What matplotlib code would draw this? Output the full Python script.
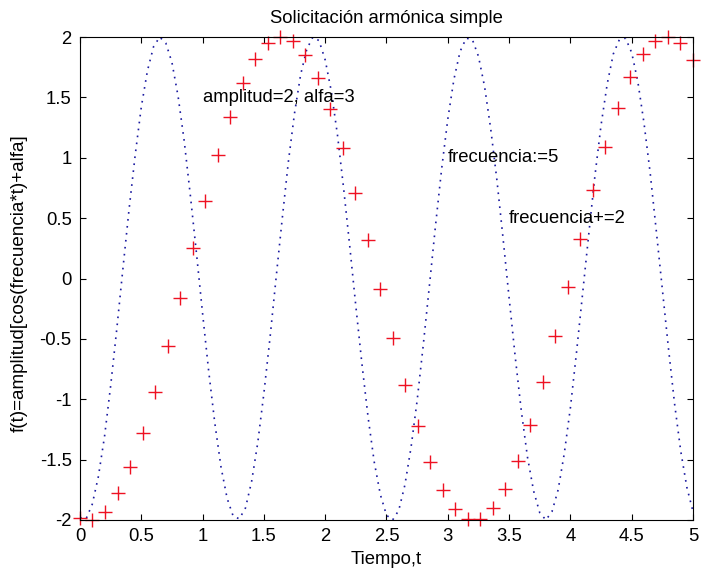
import matplotlib
matplotlib.use("Agg")
import matplotlib.pyplot as plt
import numpy as np

plt.rcParams['font.family'] = ['Liberation Sans', 'DejaVu Sans']

t_azul = np.linspace(0, 5, 101)
f_azul = [-1.98, -1.99, -1.87, -1.64, -1.31, -0.89, -0.42, 0.08, 0.57, 1.02,
          1.42, 1.72, 1.92, 2.00, 1.95, 1.79, 1.51, 1.14, 0.69, 0.21,
          -0.29, -0.77, -1.20, -1.56, -1.82, -1.97, -1.99, -1.90, -1.68, -1.36,
          -0.95, -0.49, 0.01, 0.50, 0.97, 1.37, 1.69, 1.90, 2.00, 1.97,
          1.81, 1.55, 1.19, 0.75, 0.27, -0.23, -0.71, -1.15, -1.52, -1.79,
          -1.96, -2.00, -1.92, -1.71, -1.40, -1.01, -0.55, -0.06, 0.44, 0.91,
          1.32, 1.65, 1.88, 1.99, 1.98, 1.84, 1.59, 1.24, 0.82, 0.34,
          -0.16, -0.65, -1.10, -1.48, -1.76, -1.94, -2.00, -1.93, -1.75, -1.45,
          -1.07, -0.61, -0.12, 0.37, 0.85, 1.27, 1.61, 1.86, 1.98, 1.99,
          1.87, 1.63, 1.29, 0.88, 0.40, -0.09, -0.58, -1.04, -1.43, -1.73,
          -1.93]

# frecuencia 2: 50 marcas '+'
t_rojo = np.linspace(0, 5, 50)
f_rojo = [-1.98, -2.00, -1.93, -1.78, -1.56, -1.28, -0.94, -0.56, -0.16, 0.25,
          0.64, 1.02, 1.34, 1.62, 1.82, 1.95, 2.00, 1.97, 1.85, 1.66,
          1.40, 1.08, 0.71, 0.32, -0.09, -0.49, -0.88, -1.22, -1.52, -1.75,
          -1.91, -1.99, -1.99, -1.90, -1.74, -1.51, -1.21, -0.86, -0.48, -0.07,
          0.33, 0.73, 1.09, 1.41, 1.67, 1.86, 1.97, 2.00, 1.95, 1.81]

fs = 13.3

fig = plt.figure(figsize=(7.01, 5.74), dpi=100)
ax = fig.add_axes([0.1141, 0.0941, 0.8745, 0.8414])

ax.plot(t_azul, f_azul, color='#1a1aa0', linestyle=(0, (1, 3.2)), linewidth=1.2)
ax.plot(t_rojo, f_rojo, linestyle='none', marker='+', color='#ee1122',
        markersize=9.5, markeredgewidth=1.0, clip_on=False)

ax.text(1, 1.5, 'amplitud=2, alfa=3', fontsize=fs, va='center')
ax.text(3, 1, 'frecuencia:=5', fontsize=fs, va='center')
ax.text(3.5, 0.5, 'frecuencia+=2', fontsize=fs, va='center')

ax.set_xlim(0, 5)
ax.set_ylim(-2, 2)
ax.set_xticks(np.arange(0, 5.01, 0.5))
ax.set_xticklabels(['0', '0.5', '1', '1.5', '2', '2.5', '3', '3.5', '4', '4.5', '5'])
ax.set_yticks(np.arange(-2, 2.01, 0.5))
ax.set_yticklabels(['-2', '-1.5', '-1', '-0.5', '0', '0.5', '1', '1.5', '2'])
ax.tick_params(direction='in', length=4.5, width=0.8, top=True, right=True,
               labelsize=fs, pad=6)
for s in ax.spines.values():
    s.set_linewidth(0.8)

ax.set_title('Solicitación armónica simple', fontsize=fs, pad=10)
ax.set_xlabel('Tiempo,t', fontsize=fs)
ax.set_ylabel('f(t)=amplitud[cos(frecuencia*t)+alfa]', fontsize=13.6)
ax.xaxis.set_label_coords(0.5, -0.081)
ax.xaxis.label.set_verticalalignment('center')
ax.yaxis.set_label_coords(-0.0995, 0.49)
ax.yaxis.label.set_verticalalignment('center')

plt.savefig('out.png', dpi=100)
